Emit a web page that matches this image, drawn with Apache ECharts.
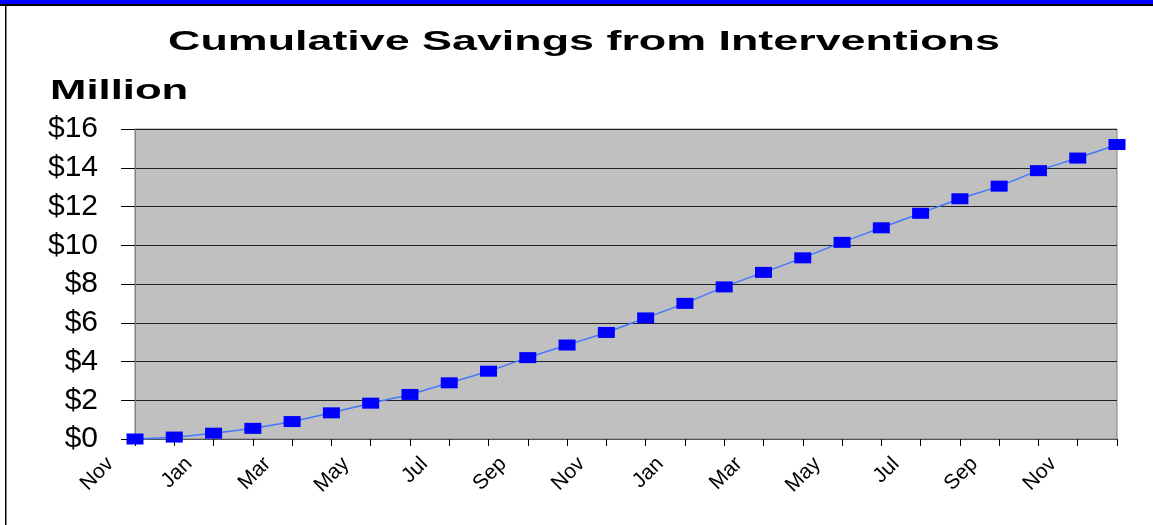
<!DOCTYPE html>
<html>
<head>
<meta charset="utf-8">
<script src="https://cdn.jsdelivr.net/npm/echarts@6/dist/echarts.min.js"></script>
<style>
html,body{margin:0;padding:0;background:#fff;}
#chart{width:1153px;height:525px;}
</style>
</head>
<body>
<div id="chart"></div>
<script>
// ---- data ----
var titleText = 'Cumulative Savings from Interventions';
var unitText = 'Million';
var months = ['Nov','Dec','Jan','Feb','Mar','Apr','May','Jun','Jul','Aug','Sep','Oct',
              'Nov','Dec','Jan','Feb','Mar','Apr','May','Jun','Jul','Aug','Sep','Oct',
              'Nov','Dec'];
var savings = [0, 0.1, 0.3, 0.55, 0.9, 1.35, 1.85, 2.3, 2.9, 3.5, 4.2, 4.85,
               5.5, 6.25, 7.0, 7.85, 8.6, 9.35, 10.15, 10.9, 11.65, 12.4, 13.05, 13.85,
               14.5, 15.2];
var yTickLabels = ['$0','$2','$4','$6','$8','$10','$12','$14','$16'];

var chart = echarts.init(document.getElementById('chart'), null, {renderer: 'canvas'});
var option = {
  backgroundColor: '#ffffff',
  animation: false,
  graphic: [
    {type: 'rect', shape: {x: 0, y: 0, width: 1153, height: 4}, style: {fill: '#0000ff'}, silent: true},
    {type: 'rect', shape: {x: 0, y: 4, width: 1153, height: 2}, style: {fill: '#000000'}, silent: true},
    {type: 'rect', shape: {x: 5, y: 4, width: 1.5, height: 521}, style: {fill: '#000000'}, silent: true},
    {type: 'text', x: 584, y: 43, scaleX: 1.66,
     style: {text: titleText, font: 'bold 27px "Liberation Sans", Arial, sans-serif',
             fill: '#000', align: 'center', verticalAlign: 'middle'}},
    {type: 'text', x: 50, y: 91, scaleX: 1.56,
     style: {text: unitText, font: 'bold 28px "Liberation Sans", Arial, sans-serif',
             fill: '#000', align: 'left', verticalAlign: 'middle'}}
  ],
  grid: {
    left: 135, right: 36, top: 129, bottom: 86,
    show: true, backgroundColor: '#c0c0c0', borderColor: '#808080', borderWidth: 1,
    containLabel: false
  },
  xAxis: {
    type: 'category',
    data: months,
    boundaryGap: false,
    axisLine: {show: true, lineStyle: {color: '#555555', width: 1}},
    axisTick: {show: true, interval: 0, length: 7, inside: false, lineStyle: {color: '#000', width: 1}},
    axisLabel: {
      interval: 1, rotate: 45, margin: -3,
      align: 'right', verticalAlign: 'middle',
      padding: [0, 35, 0, 0],
      fontFamily: '"Liberation Sans", Arial, sans-serif', fontSize: 21, color: '#000'
    },
    splitLine: {show: false}
  },
  yAxis: {
    type: 'value',
    min: 0, max: 16, interval: 2,
    axisLine: {show: true, lineStyle: {color: '#808080', width: 1}},
    axisTick: {show: true, length: 14, lineStyle: {color: '#000', width: 1}},
    axisLabel: {
      margin: 37,
      formatter: function (v) { return yTickLabels[Math.round(v / 2)]; },
      fontFamily: '"Liberation Sans", Arial, sans-serif', fontSize: 30, color: '#000'
    },
    splitLine: {show: true, lineStyle: {color: '#222222', width: 1}}
  },
  series: [{
    type: 'line',
    data: savings,
    smooth: 0.3,
    symbol: 'rect',
    symbolSize: [17, 11],
    showAllSymbol: true,
    itemStyle: {color: '#0000ff'},
    lineStyle: {color: '#4477ff', width: 1.5}
  }]
};
chart.setOption(option);
</script>
</body>
</html>
